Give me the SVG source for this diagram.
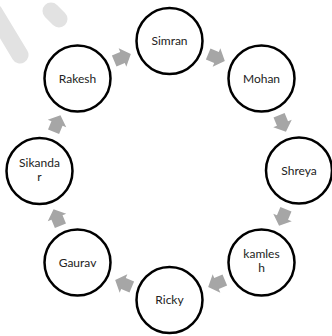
<svg xmlns="http://www.w3.org/2000/svg" width="332" height="336" viewBox="0 0 332 336">
<style>
.node circle{fill:#fff;stroke:#000;stroke-width:2.5}
.node text{font-family:Lato,"Liberation Sans",sans-serif;font-size:12px;fill:#222;text-anchor:middle}
.arr{fill:#a6a6a6}
.wm{stroke:#e2e2e2;stroke-linecap:round;fill:none}
</style>
<defs>
<path id="ar" d="M-9,-6 L0,-6 L0,-10 L9,0 L0,10 L0,6 L-9,6 Z"/>
</defs>
<g id="watermark">
<line class="wm" x1="-6" y1="12" x2="20" y2="55" stroke-width="17"/>
<line class="wm" x1="51" y1="11" x2="59" y2="19" stroke-width="17"/>
</g>
<g id="connectors">
<use href="#ar" class="arr" transform="translate(216.5,57.5) rotate(22.5)"/>
<use href="#ar" class="arr" transform="translate(282.5,123.5) rotate(67.5)"/>
<use href="#ar" class="arr" transform="translate(282.5,217.5) rotate(112.5)"/>
<use href="#ar" class="arr" transform="translate(216.5,283.5) rotate(157.5)"/>
<use href="#ar" class="arr" transform="translate(123.5,283.5) rotate(202.5)"/>
<use href="#ar" class="arr" transform="translate(57,217.5) rotate(247.5)"/>
<use href="#ar" class="arr" transform="translate(57,123.5) rotate(292.5)"/>
<use href="#ar" class="arr" transform="translate(122.5,57.5) rotate(337.5)"/>
</g>
<g id="simran" class="node"><circle cx="169.5" cy="41" r="33"/><text x="169.5" y="45">Simran</text></g>
<g id="mohan" class="node"><circle cx="261.5" cy="78.5" r="33"/><text x="261.5" y="82.5">Mohan</text></g>
<g id="shreya" class="node"><circle cx="299" cy="170.5" r="33"/><text x="299" y="174.5">Shreya</text></g>
<g id="kamlesh" class="node"><circle cx="261.5" cy="262.5" r="33"/><text x="261.5" y="258">kamles</text><text x="261.5" y="272">h</text></g>
<g id="ricky" class="node"><circle cx="169.5" cy="300" r="33"/><text x="169.5" y="304">Ricky</text></g>
<g id="gaurav" class="node"><circle cx="77.5" cy="262.5" r="33"/><text x="77.5" y="266.5">Gaurav</text></g>
<g id="sikandar" class="node"><circle cx="39.5" cy="171" r="33"/><text x="39.5" y="166.5">Sikanda</text><text x="39.5" y="180.5">r</text></g>
<g id="rakesh" class="node"><circle cx="77.5" cy="78.5" r="33"/><text x="77.5" y="82.5">Rakesh</text></g>
</svg>
